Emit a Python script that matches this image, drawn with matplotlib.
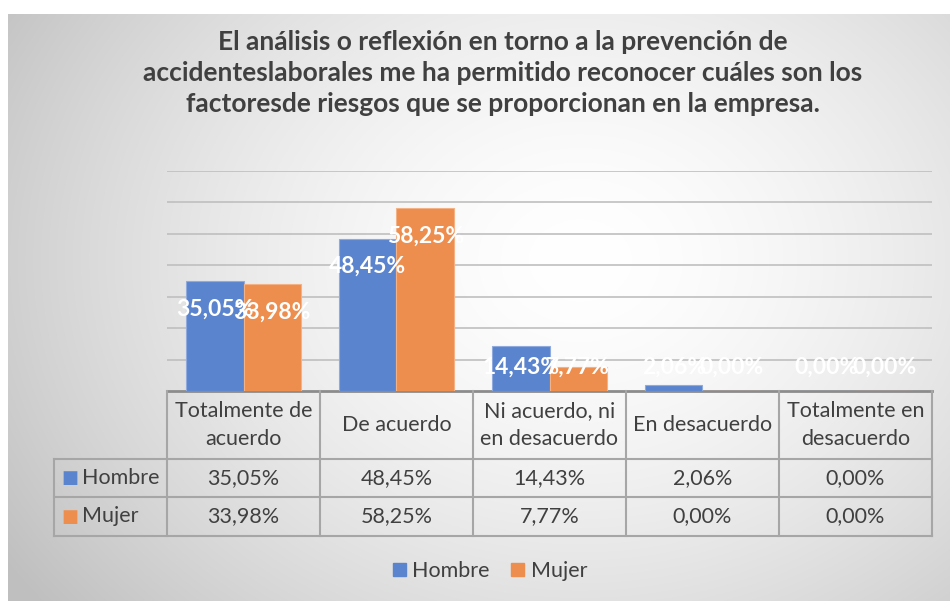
import numpy as np
import matplotlib
matplotlib.use('Agg')
import matplotlib.pyplot as plt
from matplotlib.patches import Patch

# Datos
categorias = ['Totalmente de\nacuerdo', 'De acuerdo', 'Ni acuerdo, ni\nen desacuerdo',
              'En desacuerdo', 'Totalmente en\ndesacuerdo']
series = ['Hombre', 'Mujer']
hombre = [35.05, 48.45, 14.43, 2.06, 0.00]
mujer = [33.98, 58.25, 7.77, 0.00, 0.00]

titulo = ('El análisis o reflexión en torno a la prevención de\n'
          'accidenteslaborales me ha permitido reconocer cuáles son los\n'
          'factoresde riesgos que se proporcionan en la empresa.')

COR_H = '#5B84CE'
COR_M = '#EE8E4E'
COR_TXT = '#404040'
COR_LINHA = '#A6A6A6'
FONTE = ['Lato', 'DejaVu Sans']

W, H = 950, 601
plt.rcParams['font.family'] = FONTE

fig = plt.figure(figsize=(W / 100, H / 100), dpi=100)
fig.patch.set_facecolor('white')

def fx(px):
    return px / W

def fy(py):
    return 1 - py / H

# Fundo com gradiente radial
bg = fig.add_axes([fx(8), 0, fx(W - 8), fy(14)])
bg.set_axis_off()
yy, xx = np.mgrid[14:H, 8:W]
r = np.sqrt(((xx - 580) / 600.0) ** 2 + ((yy - 260) / 480.0) ** 2)
g = 1.0 - 0.25 * np.clip(r, 0, 1.15) ** 1.6 / 1.15 ** 1.6
bg.imshow(np.dstack([g, g, g]), aspect='auto', extent=[0, 1, 0, 1])
bg.set_xlim(0, 1)
bg.set_ylim(0, 1)

# Area do grafico
ax = fig.add_axes([fx(167), fy(391), fx(932 - 167), (391 - 171) / H])
ax.patch.set_alpha(0)
x = np.arange(len(categorias))
larg = 0.376
bh = ax.bar(x - larg / 2, hombre, larg, color=COR_H, edgecolor='#8FAADC', linewidth=0.8, zorder=3)
bm = ax.bar(x + larg / 2, mujer, larg, color=COR_M, edgecolor='#F4B183', linewidth=0.8, zorder=3)
ax.set_xlim(-0.5, len(categorias) - 0.5)
ax.set_ylim(0, 70)
ax.set_yticks(np.arange(10, 71, 10))
ax.yaxis.grid(True, color='#BFBFBF', linewidth=1.2, zorder=0)
ax.tick_params(left=False, bottom=False, labelleft=False, labelbottom=False)
for s in ['left', 'right', 'top']:
    ax.spines[s].set_visible(False)
ax.spines['bottom'].set_color('#8C8C8C')
ax.spines['bottom'].set_linewidth(2)

# Rotulos de dados (brancos, dentro da barra, sobrepostos como no original)
for xs, vals in [(x - larg / 2, hombre), (x + larg / 2, mujer)]:
    for xi, v in zip(xs, vals):
        ax.text(xi, max(v - 8.9, 7.6), f'{v:.2f}%'.replace('.', ','), color='white',
                fontsize=16.5, fontweight='bold', ha='center', va='center', zorder=5)

# Tabela de dados
tb = fig.add_axes([fx(167), fy(536), fx(932 - 167), (536 - 391) / H])
tb.set_axis_off()
tb.set_xlim(-0.5, len(categorias) - 0.5)
tb.set_ylim(145, 0)
x_esq = -0.5 - (167 - 54) / 153.0
kw = dict(color=COR_LINHA, linewidth=1.5, clip_on=False)
for xi in np.arange(len(categorias) + 1) - 0.5:
    tb.plot([xi, xi], [0, 145], **kw)
tb.plot([x_esq, x_esq], [68, 145], **kw)
for yi in [68, 106, 145]:
    tb.plot([x_esq, len(categorias) - 0.5], [yi, yi], **kw)

for i, c in enumerate(categorias):
    tb.text(i, 34, c, ha='center', va='center', fontsize=15.5, color=COR_TXT, linespacing=1.5)
for j, (nome, vals, cor) in enumerate([('Hombre', hombre, COR_H), ('Mujer', mujer, COR_M)]):
    yc = 87 + 38.5 * j
    for i, v in enumerate(vals):
        tb.text(i, yc, f'{v:.2f}%'.replace('.', ','), ha='center', va='center',
                fontsize=15.5, color=COR_TXT)
    tb.text(x_esq + 0.05, yc, '■', ha='left', va='center', fontsize=13, color=cor,
            family=['DejaVu Sans'], clip_on=False)
    tb.text(x_esq + 0.185, yc, nome, ha='left', va='center', fontsize=15.5, color=COR_TXT,
            clip_on=False)

# Titulo
fig.text(fx(503), fy(73), titulo, ha='center', va='center', fontsize=19,
         fontweight='bold', color=COR_TXT, linespacing=1.33)

# Legenda
fig.legend([Patch(color=COR_H), Patch(color=COR_M)], series, loc='center',
           bbox_to_anchor=(fx(490), fy(571)), ncol=2, frameon=False, fontsize=15.5,
           handlelength=0.6, handleheight=0.6, handletextpad=0.3, columnspacing=1.0,
           labelcolor=COR_TXT)

fig.savefig('out.png', dpi=100, facecolor='white')
